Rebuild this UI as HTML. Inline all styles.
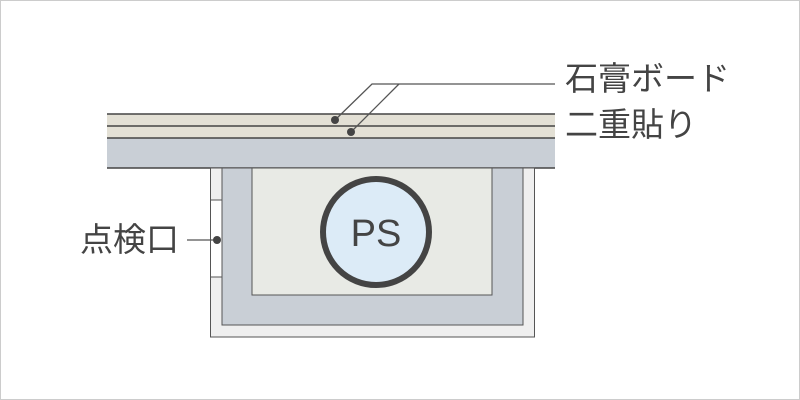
<!DOCTYPE html>
<html><head><meta charset="utf-8"><style>
body{margin:0;width:800px;height:400px;overflow:hidden;background:#fff}
</style></head><body>
<svg width="800" height="400" xmlns="http://www.w3.org/2000/svg" style="display:block">
<rect x="0.5" y="0.5" width="799" height="399" fill="#fff" stroke="#ccc"/>
<rect x="107" y="114" width="448" height="24" fill="#e3e0d5"/>
<rect x="107" y="138" width="448" height="30" fill="#c9cfd6"/>
<g stroke="#444" stroke-width="1.5">
<line x1="107" y1="114" x2="555" y2="114"/>
<line x1="107" y1="126" x2="555" y2="126"/>
<line x1="107" y1="138" x2="555" y2="138"/>
<line x1="107" y1="168" x2="555" y2="168"/>
</g>
<rect x="210.5" y="168" width="324" height="169" fill="#efefef" stroke="#555" stroke-width="1"/>
<rect x="222" y="168" width="301" height="157" fill="#c9cfd6" stroke="#555" stroke-width="1"/>
<rect x="252" y="168" width="240" height="127" fill="#e8eae5" stroke="#555" stroke-width="1"/>
<rect x="210.5" y="200" width="11.5" height="77" fill="#fff" stroke="#555" stroke-width="1"/>
<circle cx="376" cy="232" r="53" fill="#dcebf7" stroke="#444" stroke-width="6"/>
<text x="376" y="246" text-anchor="middle" font-family="Liberation Sans, sans-serif" font-size="38" fill="#444">PS</text>
<g stroke="#555" stroke-width="1.3" fill="none">
<polyline points="335,120 372,84 555,84"/>
<polyline points="351,132 399,84"/>
<line x1="187" y1="240" x2="217" y2="240"/>
</g>
<g fill="#444"><circle cx="335" cy="120" r="4"/><circle cx="351" cy="132" r="4"/><circle cx="217" cy="240" r="4"/></g>
<g font-family="Liberation Sans, Noto Sans CJK JP, sans-serif" font-size="33" fill="#444">
<text x="565" y="90">石膏ボード</text>
<text x="565" y="136">二重貼り</text>
<text x="80" y="251">点検口</text>
</g>
</svg>
</body></html>
